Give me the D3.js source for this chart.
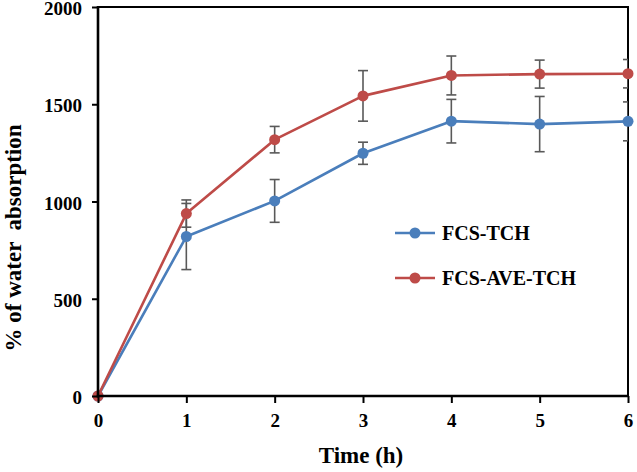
<!DOCTYPE html>
<html><head><meta charset="utf-8">
<script src="https://cdn.jsdelivr.net/npm/d3@7"></script>
<style>body{margin:0;background:#fff}svg{display:block}</style>
</head><body><svg id="c" width="637" height="472"></svg>
<script>
const times = [0, 1, 2, 3, 4, 5, 6];
const fcsTch = [0, 820, 1003, 1248, 1413, 1398, 1412];
const fcsTchErr = [0, 170, 110, 57, 112, 142, 100];
const fcsAveTch = [0, 938, 1318, 1543, 1648, 1655, 1657];
const fcsAveTchErr = [0, 70, 68, 130, 100, 72, 73];
const seriesNames = ["FCS-TCH", "FCS-AVE-TCH"];
const seriesColors = ["#4A7EBB", "#BE4B48"];
const yTicks = [0, 500, 1000, 1500, 2000];
const xTicks = [0, 1, 2, 3, 4, 5, 6];

const FONT = '"Liberation Serif"';
const svg = d3.select("#c");
const L = 98, R = 628, T = 7, B = 396;
const x = d3.scaleLinear().domain([0, 6]).range([L, R]);
const y = d3.scaleLinear().domain([0, 2000]).range([B, T]);

svg.append("defs").append("clipPath").attr("id", "clip")
  .append("rect").attr("x", L).attr("y", T).attr("width", R - L).attr("height", B - T);

// frame
svg.append("line").attr("x1", L).attr("x2", R + 1).attr("y1", T).attr("y2", T).attr("stroke", "#000").attr("stroke-width", 2);
svg.append("line").attr("x1", R).attr("x2", R).attr("y1", T).attr("y2", B).attr("stroke", "#000").attr("stroke-width", 2);

const series = [
  {name: seriesNames[0], vals: fcsTch, err: fcsTchErr, color: seriesColors[0]},
  {name: seriesNames[1], vals: fcsAveTch, err: fcsAveTchErr, color: seriesColors[1]}
];

// error bars
const eg = svg.append("g").attr("clip-path", "url(#clip)").attr("stroke", "#595959").attr("stroke-width", 1.6);
series.forEach(s => {
  times.forEach((t, i) => {
    if (!s.err[i]) return;
    const cx = x(t), y1 = y(s.vals[i] + s.err[i]), y2 = y(s.vals[i] - s.err[i]);
    eg.append("line").attr("x1", cx).attr("x2", cx).attr("y1", y1).attr("y2", y2);
    eg.append("line").attr("x1", cx - 5).attr("x2", cx + 5).attr("y1", y1).attr("y2", y1);
    eg.append("line").attr("x1", cx - 5).attr("x2", cx + 5).attr("y1", y2).attr("y2", y2);
  });
});

// lines & markers
const line = d3.line().x((d, i) => x(times[i])).y(d => y(d));
series.forEach(s => {
  svg.append("path").attr("d", line(s.vals)).attr("fill", "none")
    .attr("stroke", s.color).attr("stroke-width", 2.6).attr("stroke-linejoin", "round");
  svg.append("g").selectAll("circle").data(s.vals).join("circle")
    .attr("cx", (d, i) => x(times[i])).attr("cy", d => y(d)).attr("r", 5.5).attr("fill", s.color);
});

// axes
const ya = svg.append("g").attr("transform", `translate(${L},0)`)
  .call(d3.axisLeft(y).tickValues(yTicks).tickSize(6).tickPadding(10).tickFormat(d3.format("d")));
const xa = svg.append("g").attr("transform", `translate(0,${B})`)
  .call(d3.axisBottom(x).tickValues(xTicks).tickSize(7).tickPadding(11).tickFormat(d3.format("d")));
[ya, xa].forEach(a => {
  a.attr("font-family", null).attr("font-size", null);
  a.select(".domain").attr("stroke", "#000").attr("stroke-width", 2.6);
  a.selectAll(".tick line").attr("stroke", "#000").attr("stroke-width", 2);
  a.selectAll(".tick text").style("font-family", FONT).style("font-weight", "bold")
    .style("font-size", "19px").attr("fill", "#000");
});
ya.selectAll(".tick text").attr("dy", "0.4em");
ya.select(".domain").attr("d", `M0,${B + 1.3}V${T - 1}`);
xa.select(".domain").attr("d", `M${L - 1.3},0H${R + 1}`);

// axis titles
svg.append("text").attr("x", 361).attr("y", 463).attr("text-anchor", "middle")
  .style("font-family", FONT).style("font-weight", "bold").style("font-size", "23px").text("Time (h)");
svg.append("text").attr("transform", "translate(21,238) rotate(-90)").attr("text-anchor", "middle")
  .style("white-space", "pre").style("font-family", FONT).style("font-weight", "bold")
  .style("font-size", "23px").text("% of water  absorption");

// legend
const legY = [233, 278];
series.forEach((s, i) => {
  const g = svg.append("g");
  g.append("line").attr("x1", 395).attr("x2", 435).attr("y1", legY[i]).attr("y2", legY[i])
    .attr("stroke", s.color).attr("stroke-width", 2.6);
  g.append("circle").attr("cx", 415).attr("cy", legY[i]).attr("r", 5.5).attr("fill", s.color);
  g.append("text").attr("x", 442).attr("y", legY[i] + 7).style("font-family", FONT)
    .style("font-weight", "bold").style("font-size", "20px").text(s.name);
});
</script></body></html>
